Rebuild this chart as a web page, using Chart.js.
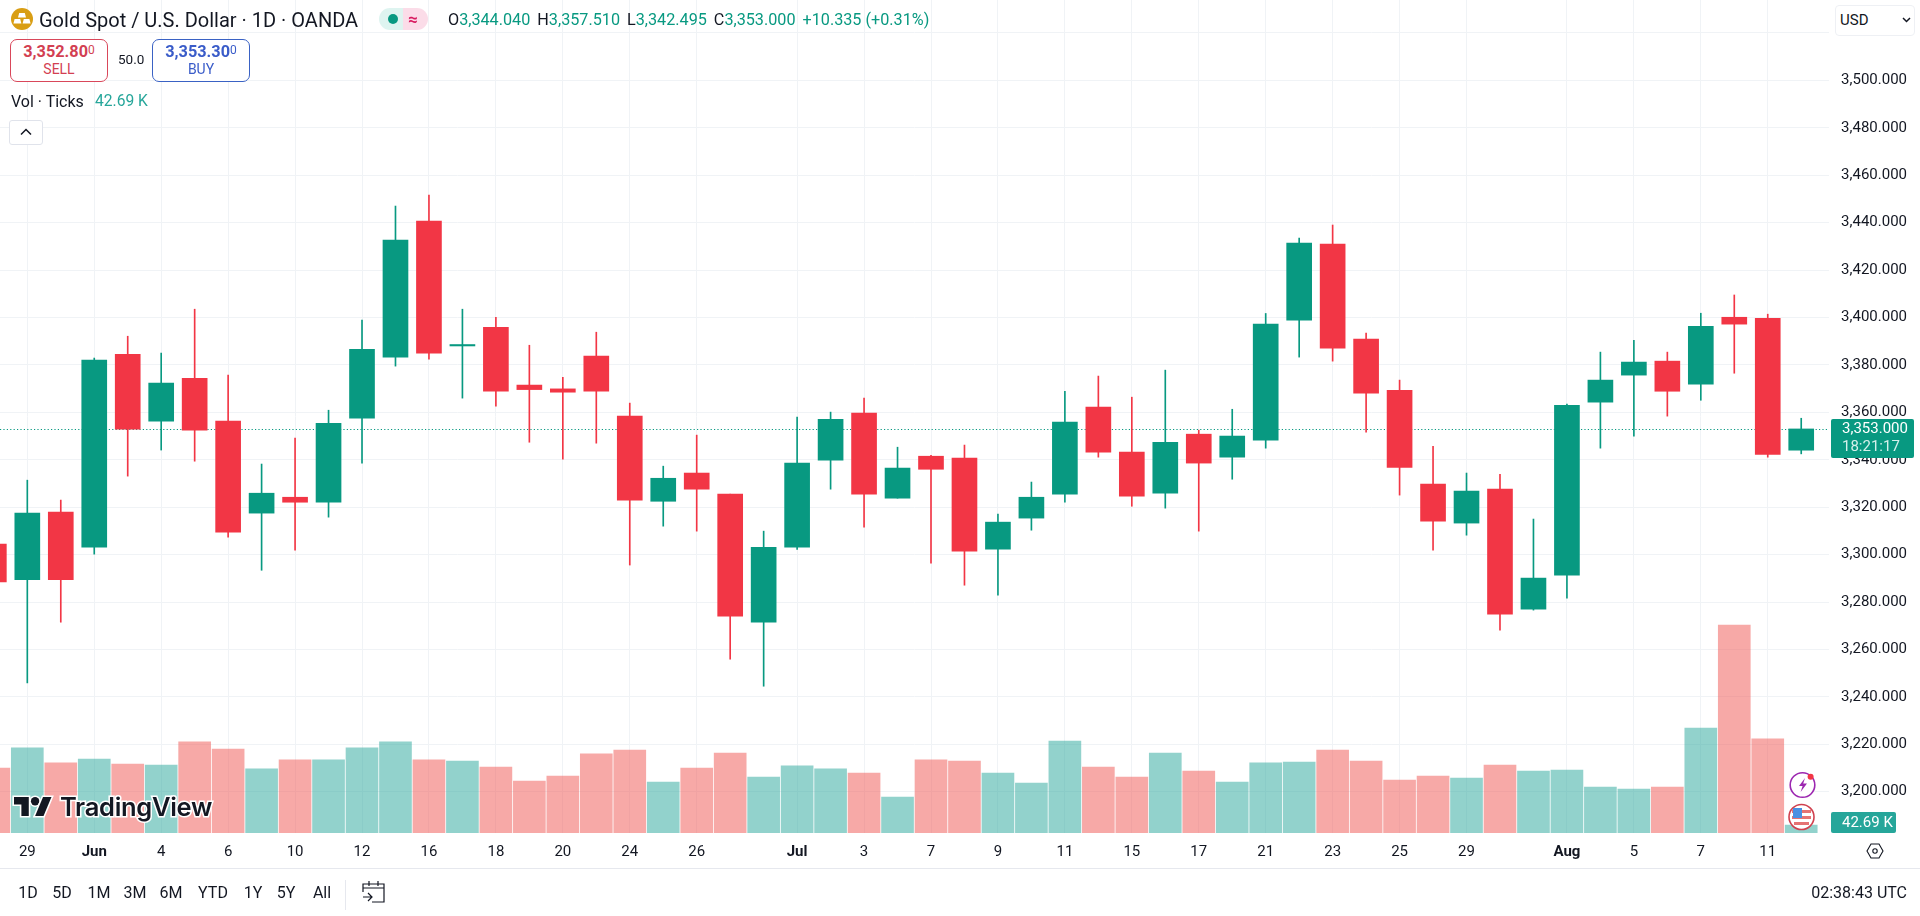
<!DOCTYPE html>
<html>
<head>
<meta charset="utf-8">
<title>Gold Spot / U.S. Dollar</title>
<script src="https://cdn.jsdelivr.net/npm/chart.js@4"></script>
<style>
  html, body { margin: 0; padding: 0; background: #fff; overflow: hidden; }
  body { width: 1920px; height: 916px; position: relative; font-family: Roboto, sans-serif; color: #131722; }
  canvas { position: absolute; left: 0; top: 0; }
  .abs { position: absolute; white-space: nowrap; line-height: 1; }
  .teal { color: #089981; }
  .tradebox { position: absolute; top: 39px; height: 41px; border: 1px solid; border-radius: 7px; text-align: center; background: #fff; }
  .tradebox b { display: block; font-size: 16.3px; font-weight: 700; margin-top: 3px; line-height: 18px; }
  .tradebox b sup { font-size: 12px; font-weight: 400; line-height: 0; vertical-align: 3px; }
  .tradebox span { display: block; font-size: 14px; line-height: 16px; }
  .range { position: absolute; top: 885px; font-size: 16px; line-height: 16px; transform: translateX(-50%); }
</style>
</head>
<body>
<canvas id="chart" width="1920" height="916"></canvas>

<!-- header -->
<svg class="abs" style="left:11px;top:8px" width="22" height="22" viewBox="0 0 22 22">
  <circle cx="11" cy="11" r="11" fill="#d99e14"/>
  <path d="M8.2 5h5.6l1.2 4.4H7z M3.6 11h5.6l1.2 4.4H2.4z M12.8 11h5.6l1.2 4.4h-8z" fill="#fff"/>
</svg>
<div class="abs" style="left:39px;top:10px;font-size:20px">Gold Spot / U.S. Dollar · 1D · OANDA</div>
<div class="abs" style="left:379px;top:8px;width:49px;height:22px;border-radius:11px;overflow:hidden;background:linear-gradient(90deg,#def4f0 50%,#fbdce8 50%)">
  <span class="abs" style="left:9px;top:6px;width:10px;height:10px;border-radius:5px;background:#089981"></span>
  <span class="abs" style="left:29px;top:3px;font-size:17px;font-weight:700;color:#d81b60">≈</span>
</div>
<div class="abs" style="left:448px;top:12px;font-size:16.2px">O<span class="teal">3,344.040</span><span style="margin-left:7px">H</span><span class="teal">3,357.510</span><span style="margin-left:7px">L</span><span class="teal">3,342.495</span><span style="margin-left:7px">C</span><span class="teal">3,353.000</span><span class="teal" style="margin-left:7px">+10.335 (+0.31%)</span></div>

<div class="tradebox" style="left:10px;width:96px;border-color:#d9475a;color:#d33f52"><b>3,352.80<sup>0</sup></b><span>SELL</span></div>
<div class="abs" style="left:118px;top:53px;font-size:13.5px">50.0</div>
<div class="tradebox" style="left:152px;width:96px;border-color:#3a62c4;color:#3a5cc9"><b>3,353.30<sup>0</sup></b><span>BUY</span></div>

<div class="abs" style="left:11px;top:94px;font-size:16px">Vol · Ticks</div>
<div class="abs" style="left:95px;top:94px;font-size:15.6px;color:#26a69a">42.69 K</div>
<div class="abs" style="left:9px;top:120px;width:32px;height:23px;border:1px solid #e0e3eb;border-radius:3px;background:#fff">
  <svg class="abs" style="left:10px;top:7px" width="12" height="8" viewBox="0 0 12 8"><path d="M1 6.5l5-5 5 5" fill="none" stroke="#131722" stroke-width="1.5"/></svg>
</div>

<div class="abs" style="left:1835px;top:5px;width:78px;height:29px;border:1px solid #eef0f4;border-radius:4px;background:#fff">
  <span class="abs" style="left:4px;top:7px;font-size:15px">USD</span>
  <svg class="abs" style="left:66px;top:11px" width="9" height="6" viewBox="0 0 9 6"><path d="M1 1l3.5 3.5L8 1" fill="none" stroke="#131722" stroke-width="1.5"/></svg>
</div>

<!-- watermark -->
<svg class="abs" style="left:14px;top:796px;overflow:visible" width="38" height="21" viewBox="0 4 36 18">
  <g stroke="#fff" stroke-width="3" paint-order="stroke" fill="#131722">
    <path d="M14 22H7V11H0V4h14v18z"/><circle cx="20" cy="8" r="4"/><path d="M28 22h-8l7.5-18h8L28 22z"/>
  </g>
</svg>
<div class="abs" style="left:60px;top:794px;font-family:Inter,sans-serif;font-size:25.5px;font-weight:600;color:#131722;-webkit-text-stroke:3px #fff;paint-order:stroke fill;letter-spacing:-.3px">TradingView</div>

<!-- event icons -->
<svg class="abs" style="left:1788px;top:770px" width="30" height="30" viewBox="0 0 30 30">
  <circle cx="14.5" cy="15" r="12.3" fill="#fff" stroke="#9c27b0" stroke-width="1.6"/>
  <path d="M17 8l-6 8h3.6l-2 6 6.4-8.4h-3.8z" fill="#9c27b0"/>
  <circle cx="22.6" cy="6.7" r="3" fill="#f23645"/>
</svg>
<svg class="abs" style="left:1787px;top:803px" width="30" height="28" viewBox="0 0 30 28">
  <circle cx="14.5" cy="14" r="12.5" fill="#fff" stroke="#d0414f" stroke-width="1.6"/>
  <rect x="5" y="7" width="19" height="3" fill="#e57373"/><rect x="5" y="13" width="19" height="3" fill="#e57373"/><rect x="7" y="19" width="15" height="3" fill="#e57373"/>
  <rect x="6" y="5" width="9" height="10" fill="#4a90e2"/>
</svg>
<svg class="abs" style="left:1866px;top:842px" width="18" height="18" viewBox="0 0 18 18">
  <path d="M5 2h8l4 7-4 7H5L1 9z" fill="none" stroke="#131722" stroke-width="1.1"/><circle cx="9" cy="9" r="2.2" fill="none" stroke="#131722" stroke-width="1.1"/>
</svg>

<!-- bottom bar -->
<div class="abs" style="left:0;top:868px;width:1920px;height:1px;background:#e6e8ee"></div>
<div class="range" style="left:28px">1D</div>
<div class="range" style="left:62px">5D</div>
<div class="range" style="left:99px">1M</div>
<div class="range" style="left:135px">3M</div>
<div class="range" style="left:171px">6M</div>
<div class="range" style="left:213px">YTD</div>
<div class="range" style="left:253px">1Y</div>
<div class="range" style="left:286px">5Y</div>
<div class="range" style="left:322px">All</div>
<div class="abs" style="left:345px;top:880px;width:1px;height:30px;background:#e6e8ee"></div>
<svg class="abs" style="left:362px;top:880px" width="24" height="24" viewBox="0 0 24 24">
  <path d="M1 12V4h21v18H10 M1 8h21 M7 1v5 M16 1v5 M1 17h9 M6 13l4 4-4 4" fill="none" stroke="#131722" stroke-width="1.2"/>
</svg>
<div class="abs" style="right:13px;top:885px;font-size:16px">02:38:43 UTC</div>

<script>
// daily candles, oldest first (index 0 is the half hidden one on the left edge)
const opens = [3304.4, 3289.4, 3317.9, 3303.1, 3384.5, 3356.3, 3374.4, 3356.3, 3317.5, 3324.2, 3322.1, 3357.5, 3383.3, 3440.7, 3388.0, 3395.9, 3371.5, 3369.9, 3383.7, 3358.4,
  3322.5, 3334.4, 3325.5, 3271.5, 3303.1, 3339.8, 3359.7, 3323.8, 3341.5, 3340.7, 3302.3, 3315.4, 3325.5, 3362.2, 3343.2, 3325.9, 3350.8, 3341.1, 3348.3,
  3398.9, 3431.0, 3390.9, 3369.3, 3329.7, 3313.3, 3327.6, 3277.0, 3291.3, 3364.3, 3375.7, 3381.6, 3371.9, 3400.1, 3399.7, 3344.04];
const highs = [3310.0, 3331.4, 3323.0, 3382.9, 3392.1, 3385.0, 3403.5, 3375.7, 3338.2, 3349.1, 3360.9, 3398.9, 3447.0, 3451.6, 3403.5, 3400.1, 3388.3, 3374.8, 3393.8, 3363.9,
  3337.3, 3350.4, 3325.5, 3309.9, 3358.0, 3360.1, 3366.0, 3345.3, 3341.9, 3346.2, 3317.1, 3330.6, 3368.9, 3375.3, 3366.4, 3377.8, 3352.5, 3361.3, 3401.7,
  3433.5, 3439.0, 3393.4, 3373.6, 3345.7, 3334.4, 3333.9, 3315.0, 3363.5, 3385.4, 3390.4, 3385.4, 3401.8, 3409.5, 3401.4, 3357.51];
const lows = [3285.0, 3245.9, 3271.5, 3300.2, 3333.1, 3344.1, 3339.4, 3307.4, 3293.4, 3301.9, 3315.8, 3338.6, 3379.5, 3382.4, 3366.0, 3362.6, 3347.4, 3340.3, 3347.0, 3295.6,
  3312.0, 3309.9, 3255.9, 3244.5, 3302.2, 3327.6, 3311.6, 3323.8, 3296.4, 3287.1, 3282.9, 3310.3, 3322.1, 3341.1, 3320.4, 3319.6, 3309.9, 3331.8, 3344.9,
  3383.3, 3381.6, 3351.6, 3325.1, 3301.9, 3308.2, 3268.1, 3276.6, 3281.6, 3344.9, 3350.0, 3358.4, 3365.1, 3376.5, 3341.1, 3342.495];
const closes = [3288.5, 3317.5, 3289.4, 3382.0, 3352.9, 3372.3, 3352.5, 3309.5, 3325.9, 3322.1, 3355.4, 3386.6, 3432.7, 3385.0, 3388.6, 3368.9, 3369.6, 3368.5, 3368.9, 3323.0,
  3332.2, 3327.6, 3274.0, 3303.1, 3338.6, 3357.1, 3325.5, 3336.5, 3336.0, 3301.5, 3313.7, 3324.2, 3355.9, 3343.2, 3324.7, 3347.4, 3338.6, 3350.0, 3397.2,
  3431.4, 3387.1, 3368.1, 3336.8, 3314.1, 3326.8, 3274.9, 3290.1, 3363.0, 3373.6, 3381.2, 3368.9, 3396.3, 3397.2, 3342.3, 3353.0];
// tick volume in thousands
const volumes = [347, 454, 374, 395, 368, 363, 486, 448, 342, 390, 390, 454, 486, 390, 384, 352, 277, 304, 422, 443,
  272, 347, 427, 299, 358, 342, 320, 192, 390, 384, 320, 267, 491, 352, 299, 427, 331, 272, 374,
  379, 443, 384, 283, 304, 293, 363, 331, 336, 245, 235, 245, 560, 1110, 502, 42.69];

const priceTicks = [3200, 3220, 3240, 3260, 3280, 3300, 3320, 3340, 3360, 3380, 3400, 3420, 3440, 3460, 3480, 3500, 3520];
const dateTickIndex = [1, 3, 5, 7, 9, 11, 13, 15, 17, 19, 21, 24, 26, 28, 30, 32, 34, 36, 38, 40, 42, 44, 47, 49, 51, 53];
const dateTickLabels = ['29', 'Jun', '4', '6', '10', '12', '16', '18', '20', '24', '26', 'Jul', '3', '7', '9', '11', '15', '17', '21', '23', '25', '29', 'Aug', '5', '7', '11'];
const monthLabels = ['Jun', 'Jul', 'Aug'];

const lastClose = closes[closes.length - 1];
const countdown = '18:21:17';
const lastVolumeLabel = '42.69 K';

const UP = '#089981';
const DOWN = '#f23645';
const isUp = i => closes[i] >= opens[i];

const fmtPrice = v => v.toLocaleString('en-US', { minimumFractionDigits: 3, maximumFractionDigits: 3 });

// last price line and the two tags on the right
const lastPricePlugin = {
  id: 'lastPrice',
  beforeDatasetsDraw(chart) {
    const { ctx, chartArea, scales } = chart;
    const y = Math.round(scales.y.getPixelForValue(lastClose)) + 0.5;
    ctx.save();
    ctx.strokeStyle = UP;
    ctx.lineWidth = 1;
    ctx.setLineDash([1.2, 2.2]);
    ctx.beginPath();
    ctx.moveTo(chartArea.left, y);
    ctx.lineTo(chartArea.right, y);
    ctx.stroke();
    ctx.restore();
  },
  afterDraw(chart) {
    const { ctx, chartArea, scales } = chart;
    const y = scales.y.getPixelForValue(lastClose);
    ctx.save();
    ctx.fillStyle = UP;
    ctx.beginPath();
    ctx.roundRect(1831, y - 10, 83, 39, 2);
    ctx.fill();
    ctx.fillStyle = '#fff';
    ctx.font = '15px Roboto';
    ctx.textBaseline = 'middle';
    ctx.fillText(fmtPrice(lastClose), 1842, y);
    ctx.fillStyle = '#d5f0eb';
    ctx.fillText(countdown, 1842, y + 18);

    ctx.fillStyle = '#26a69a';
    ctx.beginPath();
    ctx.roundRect(1831, chartArea.bottom - 21, 65, 21, 2);
    ctx.fill();
    ctx.fillStyle = '#fff';
    ctx.fillText(lastVolumeLabel, 1842, chartArea.bottom - 10);
    ctx.restore();
  }
};

new Chart(document.getElementById('chart'), {
  type: 'bar',
  data: {
    datasets: [
      {
        label: 'Body',
        data: closes.map((c, i) => ({ x: i, y: [opens[i], c] })),
        backgroundColor: closes.map((c, i) => isUp(i) ? UP : DOWN),
        barThickness: 25,
        grouped: false,
        order: 1
      },
      {
        label: 'Wick',
        data: closes.map((c, i) => ({ x: i, y: [lows[i], highs[i]] })),
        backgroundColor: closes.map((c, i) => isUp(i) ? UP : DOWN),
        barThickness: 1,
        grouped: false,
        order: 2
      },
      {
        label: 'Volume',
        yAxisID: 'vol',
        data: volumes.map((v, i) => ({ x: i, y: v })),
        backgroundColor: closes.map((c, i) => isUp(i) ? 'rgba(38,166,154,.5)' : 'rgba(239,83,80,.5)'),
        barThickness: 32,
        grouped: false,
        order: 3
      }
    ]
  },
  options: {
    responsive: false,
    animation: false,
    layout: { padding: { right: 13, bottom: 48 } },
    plugins: { legend: { display: false }, tooltip: { enabled: false } },
    scales: {
      x: {
        type: 'linear',
        min: 0.184,
        max: 54.83,
        offset: false,
        afterBuildTicks: scale => { scale.ticks = dateTickIndex.map(v => ({ value: v })); },
        afterFit: scale => { scale.height = 35; },
        grid: { color: '#f0f3f6', drawTicks: false, offset: false },
        border: { display: false },
        ticks: {
          autoSkip: false,
          maxRotation: 0,
          padding: 10,
          color: '#131722',
          font: ctx => ({
            family: 'Roboto',
            size: 15,
            weight: ctx.tick && monthLabels.includes(dateTickLabels[dateTickIndex.indexOf(ctx.tick.value)]) ? '700' : '400'
          }),
          callback: value => dateTickLabels[dateTickIndex.indexOf(value)]
        }
      },
      y: {
        position: 'right',
        min: 3182.6,
        max: 3533.9,
        afterBuildTicks: scale => { scale.ticks = priceTicks.map(v => ({ value: v })); },
        afterFit: scale => { scale.width = 78; scale.paddingTop = 0; scale.paddingBottom = 0; },
        grid: { color: '#f0f3f6', drawTicks: false },
        border: { display: false },
        ticks: {
          crossAlign: 'far',
          padding: 0,
          color: '#131722',
          font: { family: 'Roboto', size: 15 },
          // the 3,520 line has no label, the currency box sits there
          callback: v => v > 3500 ? '' : fmtPrice(v)
        }
      },
      vol: { display: false, min: 0, max: 4445 }
    }
  },
  plugins: [lastPricePlugin]
});
</script>
</body>
</html>
